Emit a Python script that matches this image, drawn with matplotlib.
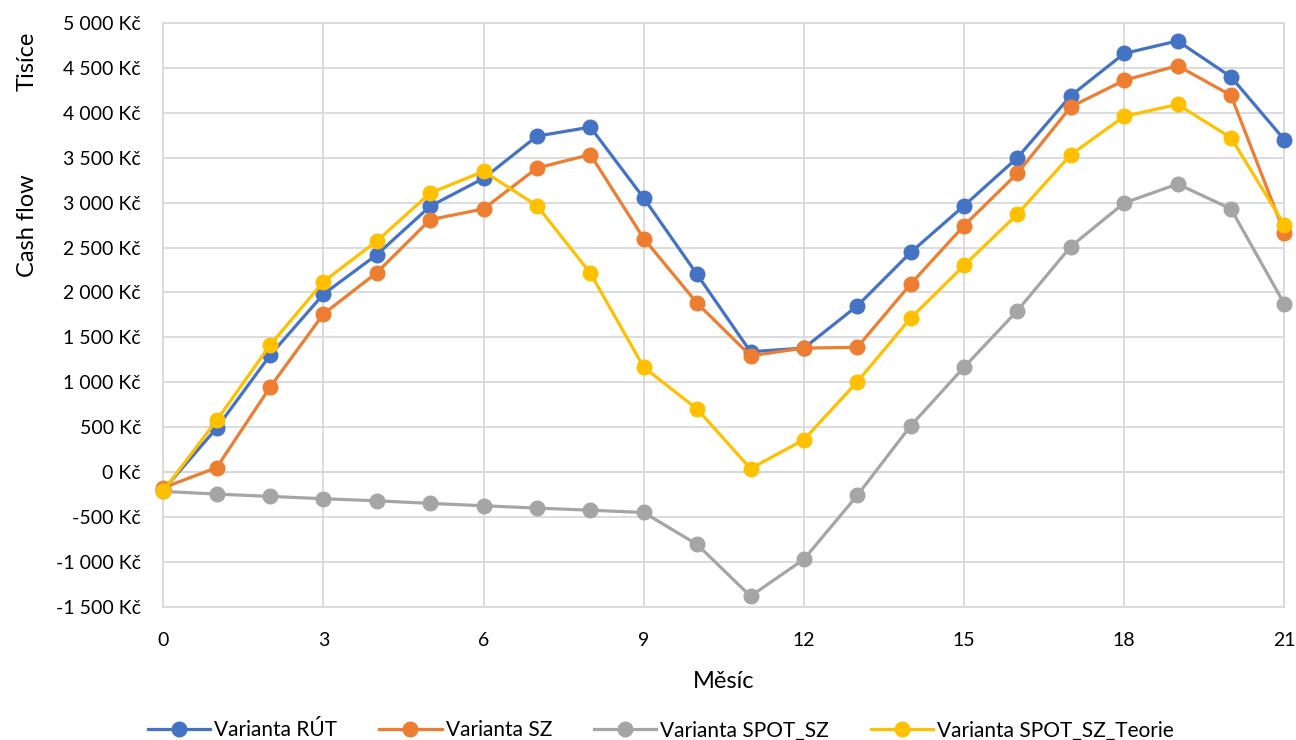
import numpy as np
import matplotlib.pyplot as plt
from matplotlib.ticker import FuncFormatter, MultipleLocator

plt.rcParams['font.family'] = ['Lato', 'DejaVu Sans']

# months and cash flow series (in thousands of Kč)
mesic = list(range(22))
rut = [-200, 490, 1300, 1980, 2420, 2960, 3270, 3740, 3840, 3050, 2200, 1340,
       1380, 1850, 2445, 2965, 3500, 4190, 4660, 4800, 4400, 3700]
sz = [-175, 50, 945, 1760, 2220, 2810, 2930, 3385, 3535, 2600, 1880, 1295,
      1380, 1389, 2093, 2744, 3326, 4066, 4361, 4524, 4194, 2665]
spot_sz = [-215, -245, -271, -297, -320, -349, -375, -401, -425, -450, -806, -1382,
           -971, -260, 515, 1167, 1797, 2511, 2996, 3207, 2930, 1872]
spot_teorie = [-210, 576, 1413, 2120, 2572, 3107, 3348, 2966, 2214, 1167, 702, 38,
               361, 1005, 1714, 2300, 2872, 3533, 3960, 4093, 3722, 2753]

series = [
    ("Varianta RÚT", rut, "#4472C4"),
    ("Varianta SZ", sz, "#ED7D31"),
    ("Varianta SPOT_SZ", spot_sz, "#A5A5A5"),
    ("Varianta SPOT_SZ_Teorie", spot_teorie, "#FFC000"),
]

fig = plt.figure(figsize=(12.96, 7.4), dpi=100)
ax = fig.add_axes([0.126, 0.180, 0.865, 0.789])

for name, vals, col in series:
    ax.plot(mesic, vals, color=col, lw=2.3, marker="o", markersize=10.5,
            label=name, zorder=3, clip_on=False)

ax.set_xlim(0, 21)
ax.set_ylim(-1500, 5000)
ax.xaxis.set_major_locator(MultipleLocator(3))
ax.yaxis.set_major_locator(MultipleLocator(500))


def kc(v, pos):
    s = f"{int(abs(v)):,}".replace(",", " ")
    return ("-" if v < 0 else "") + s + " Kč"


ax.yaxis.set_major_formatter(FuncFormatter(kc))
ax.grid(True, color="#d9d9d9", lw=1.3, zorder=0)
ax.axhline(0, color="#bfbfbf", lw=1.5, zorder=1)
for sp in ax.spines.values():
    sp.set_color("#d9d9d9")
    sp.set_linewidth(1.3)
ax.tick_params(length=0, labelsize=14, colors="#000000")
ax.tick_params(axis="y", pad=16)
ax.tick_params(axis="x", pad=18)

ax.set_xlabel("Měsíc", fontsize=17, labelpad=16)
fig.text(0.021, 0.917, "Tisíce", rotation=90, fontsize=17, ha="center", va="center")
fig.text(0.021, 0.695, "Cash flow", rotation=90, fontsize=17, ha="center", va="center")

fig.legend(loc="lower center", ncol=4, bbox_to_anchor=(0.51, -0.026), frameon=False,
           fontsize=15, handlelength=3.0, columnspacing=2.0, handletextpad=0.2)

fig.savefig("out.png", dpi=100)
